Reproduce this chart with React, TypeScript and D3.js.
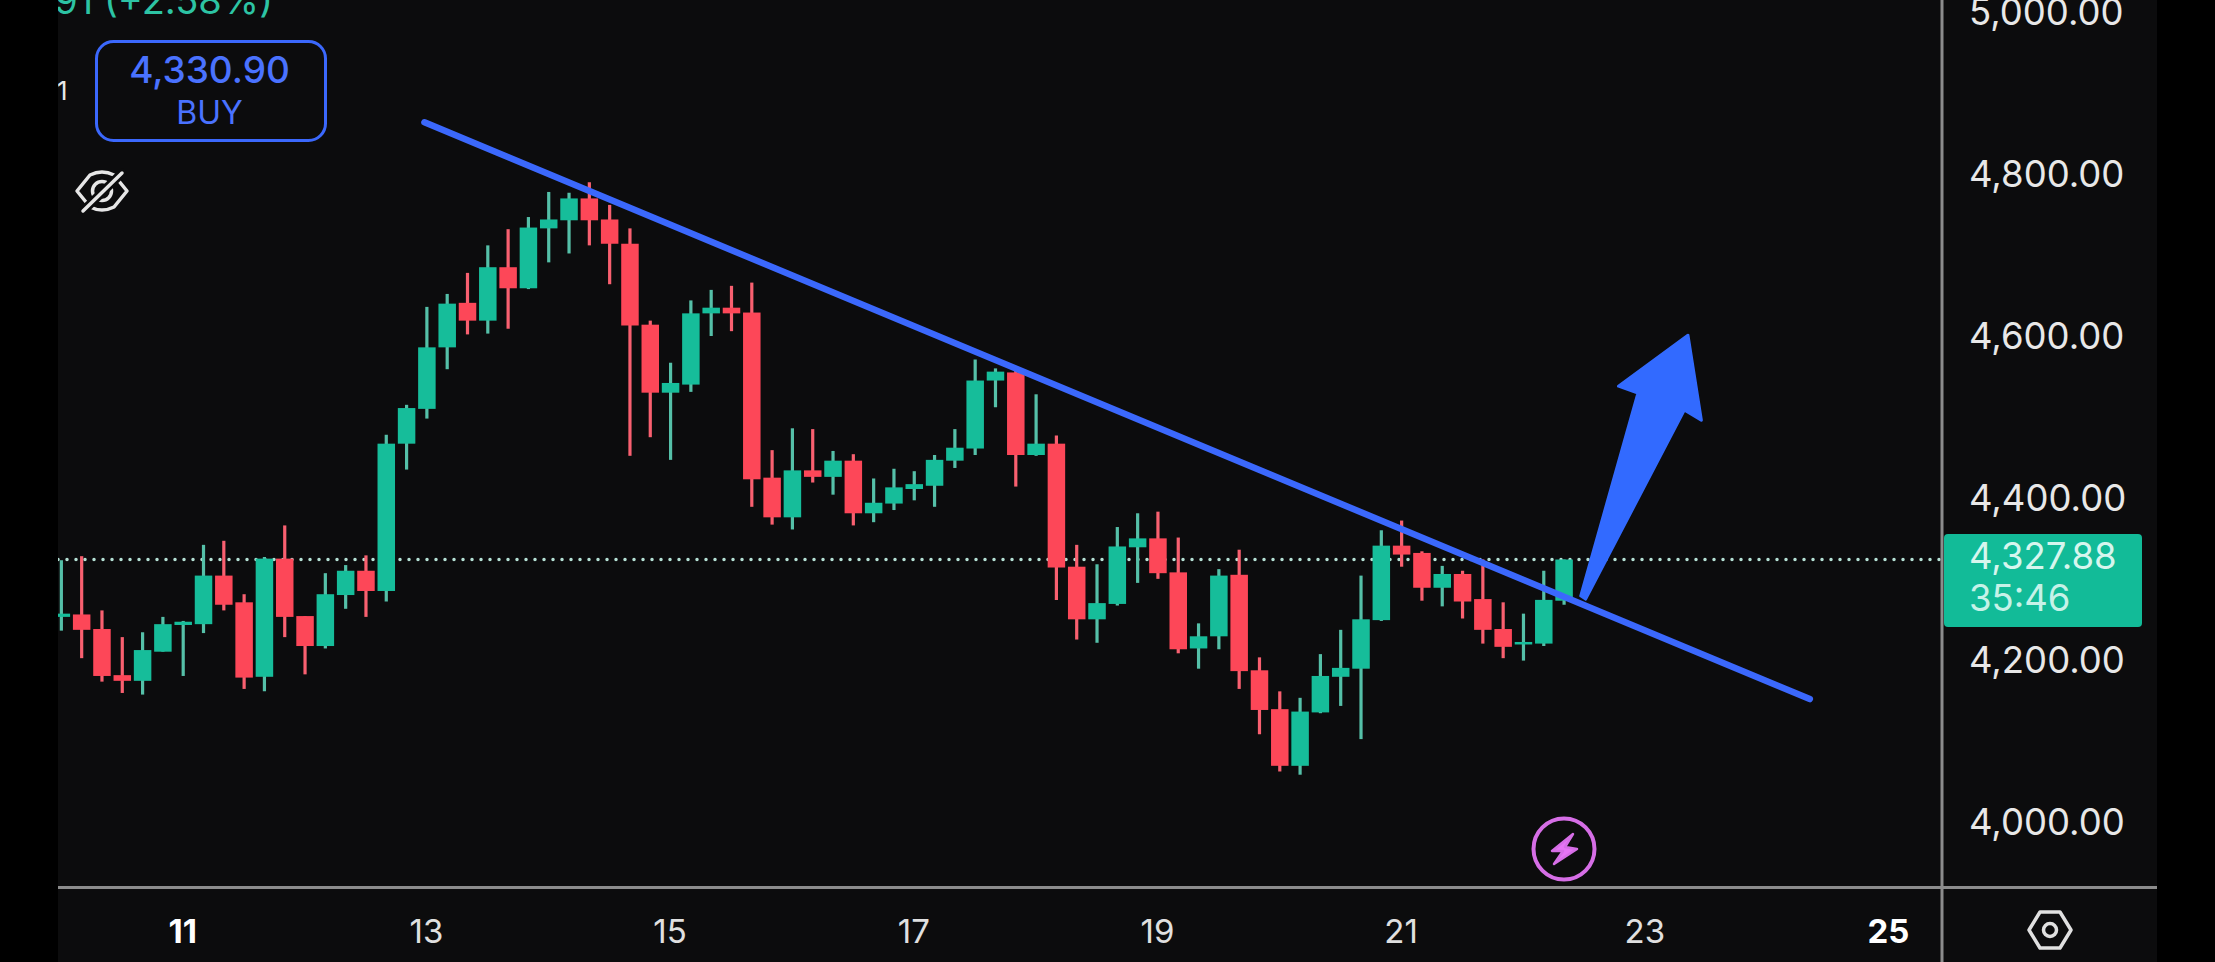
import { useEffect, useRef } from "react";
import * as d3 from "d3";

// 4h candles, oldest first
const opens = [4257, 4260, 4242, 4185, 4178, 4214, 4247, 4248, 4308, 4275, 4183, 4329, 4258, 4221, 4284, 4314, 4289, 4471, 4514, 4590, 4645, 4623, 4689, 4663, 4737, 4747, 4774, 4748, 4718, 4618, 4534, 4544, 4632, 4639, 4633, 4429, 4380, 4438, 4430, 4450, 4385, 4397, 4415, 4419, 4450, 4465, 4549, 4559, 4457, 4471, 4319, 4254, 4273, 4343, 4354, 4312, 4218, 4233, 4309, 4191, 4143, 4073, 4139, 4183, 4193, 4253, 4345, 4336, 4293, 4310, 4279, 4242, 4223, 4224, 4277];
const highs = [4327, 4332, 4265, 4232, 4238, 4257, 4252, 4346, 4351, 4285, 4331, 4370, 4258, 4311, 4321, 4333, 4482, 4519, 4640, 4656, 4682, 4716, 4736, 4751, 4782, 4781, 4794, 4766, 4737, 4623, 4571, 4648, 4661, 4666, 4670, 4463, 4490, 4489, 4462, 4458, 4428, 4440, 4437, 4457, 4489, 4575, 4564, 4565, 4532, 4481, 4346, 4322, 4368, 4385, 4387, 4355, 4249, 4316, 4340, 4207, 4165, 4157, 4211, 4241, 4308, 4364, 4376, 4338, 4320, 4314, 4328, 4275, 4261, 4314, 4328];
const lows = [4240, 4206, 4177, 4163, 4161, 4214, 4184, 4237, 4265, 4168, 4165, 4232, 4186, 4218, 4267, 4257, 4276, 4439, 4502, 4563, 4606, 4607, 4613, 4662, 4695, 4706, 4716, 4668, 4456, 4479, 4451, 4535, 4604, 4610, 4393, 4371, 4365, 4423, 4408, 4370, 4374, 4389, 4401, 4393, 4441, 4457, 4516, 4418, 4456, 4278, 4229, 4225, 4271, 4299, 4304, 4212, 4193, 4217, 4168, 4112, 4066, 4062, 4138, 4147, 4106, 4252, 4319, 4277, 4270, 4255, 4224, 4206, 4203, 4221, 4272];
const closes = [4261, 4241, 4184, 4178, 4216, 4248, 4251, 4308, 4272, 4182, 4329, 4257, 4221, 4285, 4314, 4289, 4471, 4515, 4590, 4644, 4623, 4689, 4663, 4738, 4748, 4774, 4747, 4718, 4617, 4534, 4546, 4632, 4639, 4632, 4427, 4380, 4438, 4430, 4450, 4385, 4398, 4417, 4421, 4451, 4466, 4549, 4560, 4457, 4471, 4318, 4254, 4274, 4344, 4354, 4311, 4217, 4233, 4308, 4190, 4142, 4073, 4140, 4184, 4194, 4254, 4345, 4334, 4293, 4310, 4276, 4241, 4220, 4226, 4278, 4327.88];

const priceTicks = [4000, 4200, 4400, 4600, 4800, 5000];
const dayTicks = [11, 13, 15, 17, 19, 21, 23, 25];
const boldDays = [11, 25];
const lastPrice = 4327.88;
const countdown = "35:46";
const buyPrice = "4,330.90";
const changeText = "91 (+2.58%)";

// drawn annotations as [day, price]
const trendLine: [number, number][] = [[12.98, 4868], [24.35, 4155.5]];
const arrowShape: [number, number][] = [[22.47, 4283], [22.94, 4533.6], [22.78, 4542], [23.35, 4605], [23.46, 4500], [23.32, 4512.6], [22.51, 4279]];

const WIDTH = 2215;
const HEIGHT = 962;
const BG = "#0c0c0d";
const GREEN = "#18bd9a";
const RED = "#fd4659";
const BLUE = "#3b68fc";
const AXIS = "#8c8c8c";
const FONT = "Inter, 'Noto Sans', sans-serif";

export default function App() {
  const ref = useRef<SVGSVGElement>(null);

  useEffect(() => {
    if (!ref.current) return;
    document.body.style.margin = "0";
    document.body.style.background = "#000";

    const svg = d3.select(ref.current);
    svg.selectAll("*").remove();

    // the reference is a soft video frame
    svg
      .append("defs")
      .append("filter")
      .attr("id", "soft")
      .append("feGaussianBlur")
      .attr("stdDeviation", 0.6);

    const x = d3.scaleLinear().domain([11, 25]).range([183.2, 1889]);
    const y = d3.scaleLinear().domain([4000, 5000]).range([824.9, 15.5]);
    const bodyW = 17.5;

    const candles = opens.map((o, i) => ({
      day: 11 + (i - 6) / 6,
      o,
      h: highs[i],
      l: lows[i],
      c: closes[i],
    }));

    svg.append("rect").attr("width", WIDTH).attr("height", HEIGHT).attr("fill", BG);

    const chart = svg.append("g").attr("filter", "url(#soft)");

    // last price dotted line
    chart
      .append("line")
      .attr("x1", 58)
      .attr("x2", 1942)
      .attr("y1", y(lastPrice))
      .attr("y2", y(lastPrice))
      .attr("stroke", "#b4e0d4")
      .attr("stroke-width", 3.5)
      .attr("stroke-linecap", "round")
      .attr("stroke-dasharray", "0 9");

    // wicks
    chart
      .selectAll(".wick")
      .data(candles)
      .join("line")
      .attr("class", "wick")
      .attr("x1", (d) => x(d.day))
      .attr("x2", (d) => x(d.day))
      .attr("y1", (d) => y(d.h))
      .attr("y2", (d) => y(d.l))
      .attr("stroke", (d) => (d.c >= d.o ? "#55c0a8" : "#f9606f"))
      .attr("stroke-width", 3.2);

    // bodies
    chart
      .selectAll(".body")
      .data(candles)
      .join("rect")
      .attr("class", "body")
      .attr("x", (d) => x(d.day) - bodyW / 2)
      .attr("width", bodyW)
      .attr("y", (d) => y(Math.max(d.o, d.c)))
      .attr("height", (d) => Math.max(2.5, Math.abs(y(d.o) - y(d.c))))
      .attr("fill", (d) => (d.c >= d.o ? GREEN : RED));

    const toLine = d3
      .line<[number, number]>()
      .x((d) => x(d[0]))
      .y((d) => y(d[1]));

    // trend line
    chart
      .append("path")
      .attr("d", toLine(trendLine))
      .attr("fill", "none")
      .attr("stroke", BLUE)
      .attr("stroke-width", 6.5)
      .attr("stroke-linecap", "round");

    // breakout arrow
    chart
      .append("path")
      .attr("d", toLine(arrowShape) + "Z")
      .attr("fill", "#336bff")
      .attr("stroke", "#336bff")
      .attr("stroke-width", 3)
      .attr("stroke-linejoin", "round");

    // top left change text
    svg
      .append("text")
      .attr("x", 273)
      .attr("y", 14)
      .attr("text-anchor", "end")
      .attr("fill", "#2dc4a4")
      .style("font-family", FONT)
      .style("font-size", "38px")
      .text(changeText);

    svg
      .append("text")
      .attr("x", 57)
      .attr("y", 100)
      .attr("fill", "#e8e8e8")
      .style("font-family", FONT)
      .style("font-size", "26px")
      .text("1");

    // buy button
    svg
      .append("rect")
      .attr("x", 96.5)
      .attr("y", 41.5)
      .attr("width", 229)
      .attr("height", 99)
      .attr("rx", 17)
      .attr("fill", "none")
      .attr("stroke", BLUE)
      .attr("stroke-width", 3);
    svg
      .append("text")
      .attr("x", 209.5)
      .attr("y", 83)
      .attr("text-anchor", "middle")
      .attr("fill", "#4a72ff")
      .style("font-family", FONT)
      .style("font-size", "37px")
      .style("font-weight", 500)
      .text(buyPrice);
    svg
      .append("text")
      .attr("x", 209.5)
      .attr("y", 124)
      .attr("text-anchor", "middle")
      .attr("fill", "#4a72ff")
      .style("font-family", FONT)
      .style("font-size", "32px")
      .text("BUY");

    // hidden-eye icon
    const eye = svg
      .append("g")
      .attr("transform", "translate(102,191)")
      .attr("fill", "none")
      .attr("stroke", "#e6e6e6")
      .attr("stroke-width", 3.5)
      .attr("stroke-linecap", "round")
      .attr("stroke-linejoin", "round");
    eye.append("path").attr("d", "M-25,0 L-12,-16 Q0,-22 12,-16 L25,0 L12,16 Q0,22 -12,16 Z");
    eye.append("circle").attr("r", 9.5);
    eye.append("line").attr("x1", -19).attr("y1", 20).attr("x2", 20).attr("y2", -18).attr("stroke", BG).attr("stroke-width", 9);
    eye.append("line").attr("x1", -19).attr("y1", 20).attr("x2", 20).attr("y2", -18);

    // lightning badge
    const bolt = svg.append("g").attr("transform", "translate(1564,849)");
    bolt.append("circle").attr("r", 30.5).attr("fill", "none").attr("stroke", "#d66ee6").attr("stroke-width", 4);
    bolt.append("path").attr("d", "M9,-15 L-12,2 L-1,2 L-10,15 L13,0 L1,-2 Z").attr("fill", "#e674f5").attr("stroke", "#d66ee6").attr("stroke-width", 2.5).attr("stroke-linejoin", "round");

    // axis frame
    svg.append("line").attr("x1", 58).attr("x2", 2157).attr("y1", 887.5).attr("y2", 887.5).attr("stroke", AXIS).attr("stroke-width", 3);
    svg.append("line").attr("x1", 1942).attr("x2", 1942).attr("y1", 0).attr("y2", HEIGHT).attr("stroke", AXIS).attr("stroke-width", 3);

    // price axis
    const yAxis = svg
      .append("g")
      .attr("transform", "translate(1969,0)")
      .call(d3.axisRight(y).tickValues(priceTicks).tickFormat(d3.format(",.2f")).tickSize(0).tickPadding(0));
    yAxis.select(".domain").remove();
    yAxis
      .selectAll("text")
      .attr("dy", ".36em")
      .attr("y", -4)
      .attr("fill", "#e8e8e8")
      .style("font-family", FONT)
      .style("font-size", "36.5px");

    // day axis
    const xAxis = svg
      .append("g")
      .attr("transform", "translate(-1,931)")
      .call(d3.axisBottom(x).tickValues(dayTicks).tickFormat(d3.format("d")).tickSize(0));
    xAxis.select(".domain").remove();
    xAxis
      .selectAll<SVGTextElement, number>("text")
      .attr("dy", ".36em")
      .attr("y", 0)
      .attr("fill", (d) => (boldDays.includes(d) ? "#ffffff" : "#e0e0e0"))
      .style("font-family", FONT)
      .style("font-size", "33px")
      .style("font-weight", (d) => (boldDays.includes(d) ? 700 : 400));

    // last price tag
    svg.append("rect").attr("x", 1944).attr("y", 534).attr("width", 198).attr("height", 93).attr("rx", 4).attr("fill", "#12bb98");
    svg
      .append("text")
      .attr("x", 1969)
      .attr("y", 569)
      .attr("fill", "#d6f6ee")
      .style("font-family", FONT)
      .style("font-size", "36.5px")
      .text(d3.format(",.2f")(lastPrice));
    svg
      .append("text")
      .attr("x", 1969)
      .attr("y", 611)
      .attr("fill", "#c6f2e8")
      .style("font-family", FONT)
      .style("font-size", "36.5px")
      .text(countdown);

    // settings icon
    const gear = svg
      .append("g")
      .attr("transform", "translate(2050,930)")
      .attr("fill", "none")
      .attr("stroke", "#e0e0e0")
      .attr("stroke-width", 3.5)
      .attr("stroke-linejoin", "round");
    gear.append("path").attr("d", "M-21,0 L-10,-18 L10,-18 L21,0 L10,18 L-10,18 Z");
    gear.append("circle").attr("r", 6.5);

    // black bars either side of the screenshot
    svg.append("rect").attr("x", 0).attr("y", 0).attr("width", 58).attr("height", HEIGHT).attr("fill", "#000");
    svg.append("rect").attr("x", 2157).attr("y", 0).attr("width", 58).attr("height", HEIGHT).attr("fill", "#000");
  }, []);

  return <svg ref={ref} width={WIDTH} height={HEIGHT} style={{ position: "absolute", top: 0, left: 0 }}></svg>;
}
